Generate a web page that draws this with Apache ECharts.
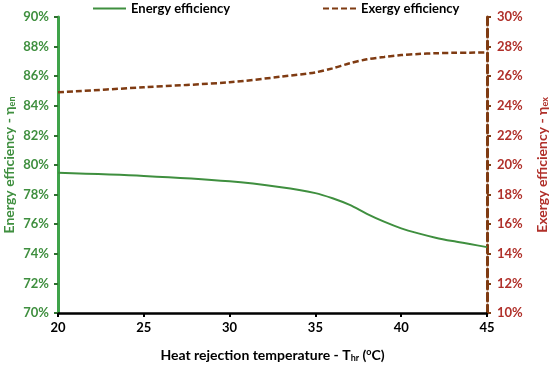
<!DOCTYPE html>
<html><head><meta charset="utf-8">
<script src="https://cdn.jsdelivr.net/npm/echarts@6/dist/echarts.min.js"></script>
<style>html,body{margin:0;padding:0;background:#fff}#c{width:550px;height:366px}</style>
</head><body><div id="c"></div>
<script>
var temps = [20, 25, 30, 33, 35, 36, 37, 38, 39, 40, 41, 42, 43, 44, 45];
var energyEff = [79.47, 79.26, 78.9, 78.5, 78.1, 77.75, 77.3, 76.7, 76.17, 75.72, 75.38, 75.09, 74.86, 74.66, 74.45];
var exergyEff = [24.91, 25.25, 25.59, 25.97, 26.26, 26.53, 26.87, 27.14, 27.3, 27.43, 27.5, 27.55, 27.58, 27.59, 27.6];
var xTicks = [20, 25, 30, 35, 40, 45];

var GREEN = '#3f8f3f', GREENAX = '#3fa34a', BROWN = '#7f3b12', RED = '#b0302a';
var FONT = 'Lato';
function pairs(xs, ys){ return xs.map(function(x,i){ return [x, ys[i]]; }); }

var chart = echarts.init(document.getElementById('c'));
chart.setOption({
  animation: false,
  textStyle: { fontFamily: FONT },
  grid: { left: 58, right: 63, top: 17, bottom: 53, containLabel: false, outerBoundsMode: 'none' },
  legend: [
    { left: 92, top: 2, padding: 0, itemWidth: 33, itemHeight: 10, itemGap: 4, data: ['Energy efficiency'],
      itemStyle: { opacity: 0 },
      textStyle: { fontFamily: FONT, fontWeight: 'bold', fontSize: 13, color: '#000' } },
    { left: 322, top: 2, padding: 0, itemWidth: 33, itemHeight: 10, data: ['Exergy efficiency'],
      itemStyle: { opacity: 0 },
      textStyle: { fontFamily: FONT, fontWeight: 'bold', fontSize: 13, color: '#000' } }
  ],
  xAxis: {
    type: 'value', min: 20, max: 45, interval: 5,
    name: '{n|Heat rejection temperature - T}{s|hr}{n| (}{sup|o}{n|C)}',
    nameLocation: 'middle', nameGap: 34, nameMoveOverlap: false,
    nameTextStyle: { rich: {
      n: { fontFamily: FONT, fontWeight: 'bold', fontSize: 14, color: '#000' },
      s: { fontFamily: FONT, fontWeight: 'bold', fontSize: 9, color: '#000', padding: [7,0,0,0] },
      sup: { fontFamily: FONT, fontWeight: 'bold', fontSize: 9, color: '#000', padding: [0,0,6,0] }
    } },
    axisLine: { lineStyle: { color: '#000', width: 2.5 } },
    axisTick: { show: true, length: 4, lineStyle: { color: '#000', width: 2 } },
    axisLabel: { color: '#000', fontWeight: 'bold', fontSize: 13, margin: 8 },
    splitLine: { show: false }
  },
  yAxis: [
    { type: 'value', min: 70, max: 90, interval: 2, position: 'left',
      name: '{n|Energy efficiency - η}{s|en}',
      nameLocation: 'middle', nameRotate: 90, nameGap: 41, nameMoveOverlap: false,
      nameTextStyle: { rich: {
        n: { fontFamily: FONT, fontWeight: 'bold', fontSize: 14, color: GREEN },
        s: { fontFamily: FONT, fontWeight: 'bold', fontSize: 9, color: GREEN, padding: [7,0,0,0] }
      } },
      axisLine: { show: true, lineStyle: { color: GREENAX, width: 3 } },
      axisTick: { show: true, length: 4, lineStyle: { color: '#2f6f2f', width: 2 } },
      axisLabel: { color: GREEN, fontWeight: 'bold', fontSize: 13, margin: 9, formatter: '{value}%' },
      splitLine: { show: false }
    },
    { type: 'value', min: 10, max: 30, interval: 2, position: 'right',
      name: '{n|Exergy efficiency - η}{s|ex}',
      nameLocation: 'middle', nameRotate: 90, nameGap: 47, nameMoveOverlap: false,
      nameTextStyle: { rich: {
        n: { fontFamily: FONT, fontWeight: 'bold', fontSize: 14, color: RED },
        s: { fontFamily: FONT, fontWeight: 'bold', fontSize: 9, color: RED, padding: [7,0,0,0] }
      } },
      axisLine: { show: true, lineStyle: { color: BROWN, width: 3, type: [8, 4] } },
      axisTick: { show: true, length: 4, lineStyle: { color: BROWN, width: 2 } },
      axisLabel: { color: RED, fontWeight: 'bold', fontSize: 13, margin: 10, formatter: '{value}%' },
      splitLine: { show: false }
    }
  ],
  series: [
    { name: 'Energy efficiency', type: 'line', yAxisIndex: 0, smooth: 0.3, symbol: 'none',
      data: pairs(temps, energyEff),
      lineStyle: { color: GREEN, width: 2 }, itemStyle: { color: GREEN } },
    { name: 'Exergy efficiency', type: 'line', yAxisIndex: 1, smooth: 0.3, symbol: 'none',
      data: pairs(temps, exergyEff),
      lineStyle: { color: BROWN, width: 2.5, type: [6, 3] }, itemStyle: { color: BROWN } }
  ]
});
</script></body></html>
